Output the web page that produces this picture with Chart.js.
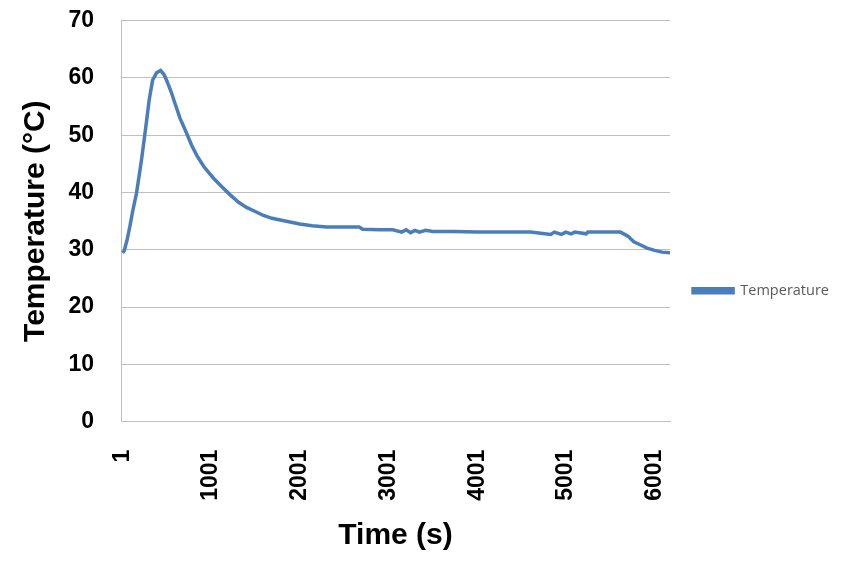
<!DOCTYPE html>
<html>
<head>
<meta charset="utf-8">
<script src="https://cdn.jsdelivr.net/npm/chart.js@4.4.1/dist/chart.umd.min.js"></script>
<style>
  html, body { margin: 0; padding: 0; background: #fff; }
  #wrap { width: 846px; height: 561px; }
</style>
</head>
<body>
<div id="wrap"><canvas id="tempChart"></canvas></div>
<script>
// Time (s) and temperature (°C)
const TIMES = [1, 20, 50, 84, 120, 160, 216, 265, 303, 341, 386, 431, 470, 499, 550, 593, 650, 726, 780, 839,
    920, 1028, 1122, 1216, 1311, 1400, 1499, 1590, 1688, 1780, 1877, 2000, 2141, 2300, 2500, 2670, 2710, 2900,
    3050, 3150, 3200, 3250, 3300, 3350, 3420, 3500, 3727, 4000, 4300, 4600, 4830, 4870, 4950, 5000, 5060, 5100,
    5230, 5250, 5450, 5615, 5700, 5766, 5850, 5916, 6000, 6086, 6175];
const TEMPS = [29.5, 29.8, 31.5, 34.0, 37.0, 39.9, 45.7, 51.5, 56.2, 59.6, 60.9, 61.3, 60.6, 59.6, 57.6, 55.6, 53.0, 50.3, 48.3, 46.5,
    44.5, 42.5, 41.0, 39.6, 38.3, 37.4, 36.7, 36.0, 35.5, 35.2, 34.9, 34.5, 34.2, 34.0, 34.0, 34.0, 33.6, 33.5,
    33.5, 33.1, 33.5, 33.0, 33.4, 33.1, 33.4, 33.2, 33.2, 33.1, 33.1, 33.1, 32.7, 33.1, 32.7, 33.1, 32.8, 33.1,
    32.8, 33.1, 33.1, 33.1, 32.4, 31.4, 30.8, 30.3, 29.9, 29.6, 29.5];
const X_TICKS = [1, 1001, 2001, 3001, 4001, 5001, 6001];
const Y_TICKS = [0, 10, 20, 30, 40, 50, 60, 70];

const points = TIMES.map((t, i) => ({ x: t, y: TEMPS[i] }));

const boldFont = (size) => ({ family: '"Liberation Sans", Arial, sans-serif', size: size, weight: 'bold', lineHeight: 1 });

let chart;
const ctx = document.getElementById('tempChart').getContext('2d');
chart = new Chart(ctx, {
    type: 'line',
    data: {
        datasets: [
            {
                label: 'Temperature',
                data: points,
                borderColor: '#4a7ebb',
                backgroundColor: '#4a7ebb',
                borderWidth: 3.5,
                pointRadius: 0,
                tension: 0
            }
        ]
    },
    options: {
        responsive: true,
        maintainAspectRatio: false,
        animation: false,
        layout: {
            padding: { top: 20.7, right: 7, bottom: 0, left: 0 }
        },
        plugins: {
            tooltip: { enabled: false },
            legend: {
                position: 'right',
                labels: {
                    boxWidth: 40,
                    boxHeight: 4,
                    color: '#595959',
                    font: { family: '"Open Sans", sans-serif', size: 14.5 },
                    padding: 23
                }
            }
        },
        scales: {
            x: {
                type: 'linear',
                min: -15,
                max: 6175,
                afterBuildTicks: (axis) => {
                    axis.ticks = X_TICKS.map(v => ({ value: v }));
                },
                afterFit: (axis) => { axis.height = 139.3; },
                grid: { display: false, drawTicks: false },
                border: { display: true, color: '#bfbfbf', width: 1 },
                ticks: {
                    autoSkip: false,
                    minRotation: 90,
                    maxRotation: 90,
                    padding: 28,
                    color: '#000',
                    font: boldFont(23),
                    callback: (v) => String(v)
                },
                title: {
                    display: true,
                    text: 'Time (s)',
                    color: '#000',
                    font: boldFont(30),
                    padding: { top: 0, bottom: 10 }
                }
            },
            y: {
                min: 0,
                max: 70,
                afterBuildTicks: (axis) => {
                    axis.ticks = Y_TICKS.map(v => ({ value: v }));
                },
                afterFit: (axis) => {
                    axis.width = 121;
                    axis.paddingTop = 0;
                    axis.paddingBottom = 0;
                },
                grid: { color: '#bfbfbf', lineWidth: 1, drawTicks: false },
                border: { display: true, color: '#bfbfbf', width: 1 },
                ticks: {
                    padding: 27,
                    color: '#000',
                    font: boldFont(23)
                },
                title: {
                    display: true,
                    text: 'Temperature (°C)',
                    color: '#000',
                    font: boldFont(30),
                    padding: { top: 21, bottom: 0 }
                }
            }
        }
    }
});
</script>
</body>
</html>
